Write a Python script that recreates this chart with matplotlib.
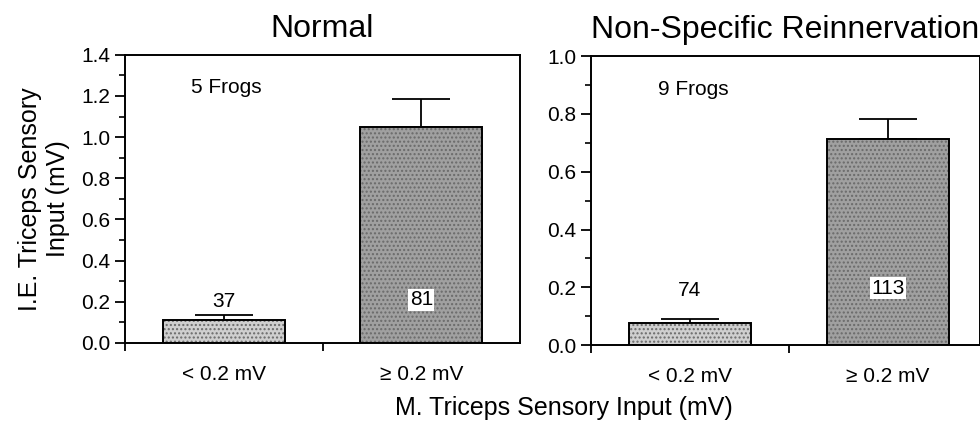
import matplotlib.pyplot as plt
import numpy as np

plt.rcParams['font.family'] = ['Liberation Sans', 'DejaVu Sans']

groups = ['< 0.2 mV', '\u2265 0.2 mV']
titles = ['Normal', 'Non-Specific Reinnervation']
frogs = ['5 Frogs', '9 Frogs']

means = [[0.11, 1.05], [0.075, 0.712]]
sems = [[0.025, 0.135], [0.015, 0.07]]
counts = [['37', '81'], ['74', '113']]
count_y = [[0.2, 0.21], [0.19, 0.197]]
ymax = [1.4, 1.0]

fig = plt.figure(figsize=(9.8, 4.25), dpi=100)
ax1 = fig.add_axes([0.1276, 0.193, 0.403, 0.678])
ax2 = fig.add_axes([0.603, 0.188, 0.397, 0.680])

xpos = np.array([1, 3])
fills = ['#cfcfcf', '#a0a0a0']

for i, ax in enumerate([ax1, ax2]):
    # stipple fill, then black outline
    for j in range(2):
        ax.bar(xpos[j], means[i][j], width=1.24, color=fills[j], hatch='....',
               edgecolor='#6a6a6a', linewidth=0, zorder=2)
    ax.bar(xpos, means[i], width=1.24, fill=False, edgecolor='black',
           linewidth=1.4, zorder=3)
    ax.errorbar(xpos, means[i], yerr=[[0, 0], sems[i]], fmt='none',
                ecolor='black', elinewidth=1.3, capsize=21, capthick=1.3,
                zorder=1)

    ax.set_xlim(0, 4 if i == 0 else 3.93)
    ax.set_ylim(0, ymax[i])
    ticks = np.arange(0, ymax[i] + 0.01, 0.2)
    ax.set_yticks(ticks)
    ax.set_yticks(np.arange(0, ymax[i] + 0.01, 0.1), minor=True)
    ax.set_yticklabels(['%.1f' % v for v in ticks])
    ax.set_xticks([0, 2])
    ax.set_xticklabels(['', ''])
    ax.set_xticks(xpos, minor=True)
    ax.set_xticklabels(groups, minor=True)
    ax.tick_params(axis='x', which='minor', length=0, pad=16, labelsize=15)
    ax.tick_params(axis='x', which='major', length=6, width=1.3)
    ax.tick_params(axis='y', which='major', length=7, width=1.3, labelsize=15)
    ax.tick_params(axis='y', which='minor', length=4, width=1.2)
    for s in ax.spines.values():
        s.set_linewidth(1.4)

    ax.set_title(titles[i], fontsize=23, pad=13)

    # n counts
    ax.text(xpos[0], count_y[i][0], counts[i][0], ha='center', va='center',
            fontsize=15, zorder=4)
    ax.text(xpos[1], count_y[i][1], counts[i][1], ha='center', va='center',
            fontsize=15, zorder=4,
            bbox=dict(facecolor='white', edgecolor='none', pad=1))
    ax.text(1.03, 0.885 * ymax[i], frogs[i], ha='center', va='center',
            fontsize=15)

ax1.set_ylabel('I.E. Triceps Sensory\nInput (mV)', fontsize=18, labelpad=8)
fig.text(0.575, 0.04, 'M. Triceps Sensory Input (mV)', ha='center',
         va='center', fontsize=18)

fig.savefig('out.png', dpi=100)
